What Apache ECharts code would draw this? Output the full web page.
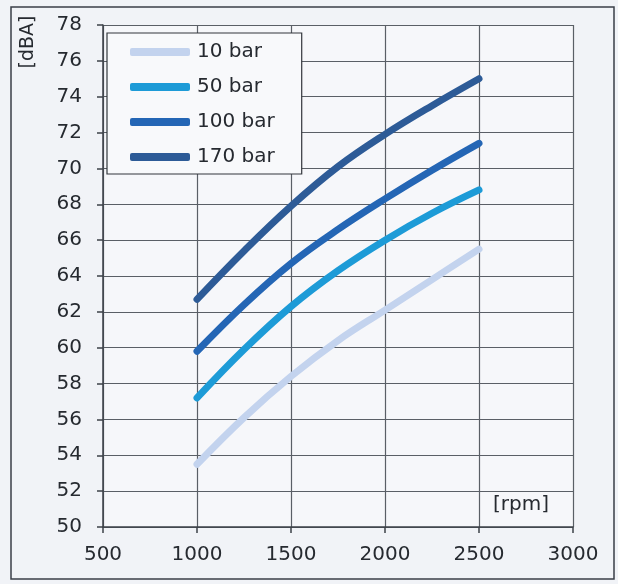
<!DOCTYPE html>
<html>
<head>
<meta charset="utf-8">
<script src="https://cdn.jsdelivr.net/npm/echarts@6/dist/echarts.min.js"></script>
<style>
  html, body { margin: 0; padding: 0; background: #f1f3f7; }
  #chart { width: 618px; height: 584px; }
</style>
</head>
<body>
<div id="chart"></div>
<script>
// Engine speed samples (rpm)
const rpm = [1000, 1250, 1500, 1750, 2000, 2250, 2500];

// Sound pressure level [dBA] per supply pressure
const bar10  = [53.5, 56.1, 58.4, 60.4, 62.1, 63.8, 65.5];
const bar50  = [57.2, 59.9, 62.3, 64.3, 66.0, 67.5, 68.8];
const bar100 = [59.8, 62.4, 64.7, 66.6, 68.3, 69.9, 71.4];
const bar170 = [62.7, 65.4, 67.9, 70.1, 71.9, 73.5, 75.0];

// Axis tick values
const xTicks = [500, 1000, 1500, 2000, 2500, 3000];
const yTicks = [50, 52, 54, 56, 58, 60, 62, 64, 66, 68, 70, 72, 74, 76, 78];

const seriesNames = ['10 bar', '50 bar', '100 bar', '170 bar'];
const seriesValues = [bar10, bar50, bar100, bar170];
const seriesColors = ['#c3d3ee', '#1d9bd7', '#2466b5', '#2d5b97'];

const FONT = '"DejaVu Sans", "Liberation Sans", Arial, sans-serif';
const TEXT = '#262a30';
const GRID = '#5a5f66';

const chart = echarts.init(document.getElementById('chart'), null, { renderer: 'canvas' });

chart.setOption({
  backgroundColor: '#f1f3f7',
  animation: false,
  grid: {
    left: 103, top: 25, width: 470, height: 502,
    show: true, backgroundColor: '#f6f7fa', borderWidth: 0
  },
  xAxis: {
    type: 'value',
    min: xTicks[0], max: xTicks[xTicks.length - 1], interval: xTicks[1] - xTicks[0],
    axisLine: { show: true, lineStyle: { color: '#3d4148', width: 1.5 } },
    axisTick: { show: true, inside: false, length: 6, lineStyle: { color: '#3d4148', width: 1.5 } },
    axisLabel: { color: TEXT, fontSize: 20, fontFamily: FONT, margin: 18, formatter: v => String(v) },
    splitLine: { show: true, lineStyle: { color: GRID, width: 1.2 } }
  },
  yAxis: {
    type: 'value',
    min: yTicks[0], max: yTicks[yTicks.length - 1], interval: yTicks[1] - yTicks[0],
    axisLine: { show: true, lineStyle: { color: '#3d4148', width: 1.5 } },
    axisTick: { show: true, inside: false, length: 6, lineStyle: { color: '#3d4148', width: 1.5 } },
    axisLabel: { color: TEXT, fontSize: 20, fontFamily: FONT, margin: 21, formatter: v => String(v) },
    splitLine: { show: true, lineStyle: { color: GRID, width: 1.2 } }
  },
  legend: {
    orient: 'vertical',
    left: 107, top: 33,
    padding: [9, 27, 7, 23],
    itemGap: 15,
    itemWidth: 60, itemHeight: 8,
    icon: 'roundRect',
    backgroundColor: '#f8f9fb',
    borderColor: '#33373d', borderWidth: 1.2,
    textStyle: { color: TEXT, fontSize: 20, fontFamily: FONT, lineHeight: 20, padding: [0, 0, 0, 2] },
    data: seriesNames
  },
  series: seriesNames.map((name, i) => ({
    name: name,
    type: 'line',
    data: rpm.map((r, j) => [r, seriesValues[i][j]]),
    smooth: 0.4,
    showSymbol: false,
    symbol: 'none',
    color: seriesColors[i],
    lineStyle: { width: 7, color: seriesColors[i], cap: 'round', join: 'round' },
    z: 3 + i
  })),
  graphic: [
    {
      type: 'rect', z: 0, silent: true,
      shape: { x: 11, y: 7, width: 603, height: 572 },
      style: { fill: 'none', stroke: '#3a3f48', lineWidth: 1.5 }
    },
    {
      type: 'text', silent: true,
      x: 28, y: 42, rotation: Math.PI / 2,
      style: { text: '[dBA]', fill: TEXT, fontSize: 19, fontFamily: FONT, align: 'center', verticalAlign: 'middle' }
    },
    {
      type: 'text', silent: true,
      x: 521, y: 505,
      style: { text: '[rpm]', fill: TEXT, fontSize: 20, fontFamily: FONT, align: 'center', verticalAlign: 'middle' }
    }
  ]
});
</script>
</body>
</html>
